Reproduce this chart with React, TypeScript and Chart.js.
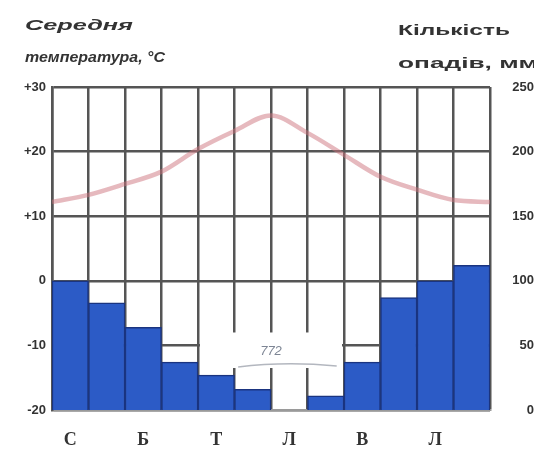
import { useEffect, useRef } from 'react';
import { Chart, registerables } from 'chart.js';

Chart.register(...registerables);

const months = ['Січень', 'Лютий', 'Березень', 'Квітень', 'Травень', 'Червень', 'Липень', 'Серпень', 'Вересень', 'Жовтень', 'Листопад', 'Грудень'];
const tickLabels = ['С', '', 'Б', '', 'Т', '', 'Л', '', 'В', '', 'Л', ''];
// monthly precipitation, mm
const precipitation = [100, 83, 64, 37, 27, 16, 0, 11, 37, 87, 100, 112];
// temperature curve sampled at month boundaries (start of Jan ... end of Dec), °C
const tempProfile = [12.2, 13.3, 15.0, 16.9, 20.4, 23.2, 25.6, 22.9, 19.5, 16.1, 14.1, 12.5, 12.2];
const annualLabel = '772';
const leftTitle = ['Середня', 'температура, °C'];
const rightTitle = ['Кількість', 'опадів, мм'];

const GRID = '#555555';
const TEXT = '#333333';

export default function App() {
  const ref = useRef<HTMLCanvasElement | null>(null);

  useEffect(() => {
    if (!ref.current) return;

    const drawStretched = (ctx: CanvasRenderingContext2D, text: string, x: number, y: number, w: number, font: string) => {
      ctx.save();
      ctx.font = font;
      ctx.fillStyle = TEXT;
      ctx.textAlign = 'left';
      ctx.textBaseline = 'alphabetic';
      const m = ctx.measureText(text).width;
      ctx.translate(x, y);
      ctx.scale(w / m, 1);
      ctx.fillText(text, 0, 0);
      ctx.restore();
    };

    const extras = {
      id: 'extras',
      afterDatasetsDraw(chart: any) {
        const ctx = chart.ctx as CanvasRenderingContext2D;
        const xs = chart.scales.xt;
        const ys = chart.scales.y;
        const x0 = xs.getPixelForValue(4);
        const x1 = xs.getPixelForValue(8);
        const y0 = ys.getPixelForValue(-8);
        const y1 = ys.getPixelForValue(-13.5);
        ctx.save();
        ctx.fillStyle = '#ffffff';
        ctx.fillRect(x0 + 2, y0, x1 - x0 - 4, y1 - y0);
        ctx.strokeStyle = 'rgba(160,165,175,0.8)';
        ctx.lineWidth = 1.5;
        ctx.beginPath();
        ctx.moveTo(xs.getPixelForValue(5.1), y1 - 1);
        ctx.quadraticCurveTo(xs.getPixelForValue(6.4), y1 - 7, xs.getPixelForValue(7.8), y1 - 2);
        ctx.stroke();
        ctx.fillStyle = '#7d8594';
        ctx.font = 'italic 13px "Liberation Sans"';
        ctx.textAlign = 'center';
        ctx.textBaseline = 'middle';
        ctx.fillText(annualLabel, xs.getPixelForValue(6.0), ys.getPixelForValue(-11.0));
        ctx.restore();
      },
      afterDraw(chart: any) {
        const ctx = chart.ctx as CanvasRenderingContext2D;
        const f1 = 'italic bold 15px "Liberation Sans"';
        const f2 = 'bold 15px "Liberation Sans"';
        drawStretched(ctx, leftTitle[0], 25, 30, 108, f1);
        drawStretched(ctx, leftTitle[1], 25, 62, 140, f1);
        drawStretched(ctx, rightTitle[0], 398, 35, 112, f2);
        drawStretched(ctx, rightTitle[1], 398, 68, 140, f2);
      },
    };

    const tickFont = { family: '"Liberation Sans"', size: 13, weight: 'bold' as const };

    const chart = new Chart(ref.current, {
      type: 'bar',
      data: {
        labels: months,
        datasets: [
          {
            type: 'line',
            label: 'Температура',
            data: tempProfile.map((v, i) => ({ x: i, y: v })) as any,
            xAxisID: 'xt',
            yAxisID: 'y',
            borderColor: 'rgba(205,115,125,0.5)',
            borderWidth: 4.5,
            pointRadius: 0,
            tension: 0.4,
            cubicInterpolationMode: 'monotone',
            order: 0,
          } as any,
          {
            type: 'bar',
            label: 'Опади',
            data: precipitation,
            xAxisID: 'x',
            yAxisID: 'yp',
            backgroundColor: '#2c5bc6',
            borderColor: '#1a3480',
            borderWidth: 1.5,
            barPercentage: 1,
            categoryPercentage: 1,
            grouped: false,
            order: 1,
          } as any,
        ],
      },
      options: {
        animation: false,
        responsive: false,
        layout: { padding: { top: 87, left: 0, right: 0, bottom: 0 } },
        plugins: { legend: { display: false }, tooltip: { enabled: false } },
        scales: {
          x: {
            type: 'category',
            offset: true,
            grid: { display: true, offset: true, color: GRID, lineWidth: 2.5, drawTicks: false },
            border: { display: true, color: '#9a9a9a', width: 2 },
            ticks: {
              autoSkip: false,
              maxRotation: 0,
              padding: 20,
              color: TEXT,
              font: { family: '"Liberation Serif"', size: 18, weight: 'bold' },
              callback: (_v: any, i: number) => tickLabels[i],
            },
            afterFit: (s: any) => { s.height = 43; },
          },
          xt: { type: 'linear', min: 0, max: 12, offset: false, display: false, grid: { offset: false } },
          y: {
            position: 'left',
            min: -20,
            max: 30,
            grid: { color: GRID, lineWidth: 2.5, drawTicks: false },
            border: { display: true, color: GRID, width: 2.5 },
            ticks: {
              stepSize: 10,
              padding: 6,
              color: TEXT,
              font: tickFont,
              callback: (v: any) => (v > 0 ? '+' + v : String(v)),
            },
            afterFit: (s: any) => { s.width = 52; },
          },
          yp: {
            position: 'right',
            min: 0,
            max: 250,
            grid: { display: false, drawTicks: false },
            border: { display: false },
            ticks: { stepSize: 50, padding: 19, crossAlign: 'far', color: TEXT, font: tickFont },
            afterFit: (s: any) => { s.width = 44; },
          },
        },
      } as any,
      plugins: [extras],
    });

    return () => chart.destroy();
  }, []);

  return (
    <div style={{ position: 'fixed', left: 0, top: 0, width: 534, height: 453, background: '#fff' }}>
      <canvas ref={ref} width={534} height={453} style={{ display: 'block' }} />
    </div>
  );
}
